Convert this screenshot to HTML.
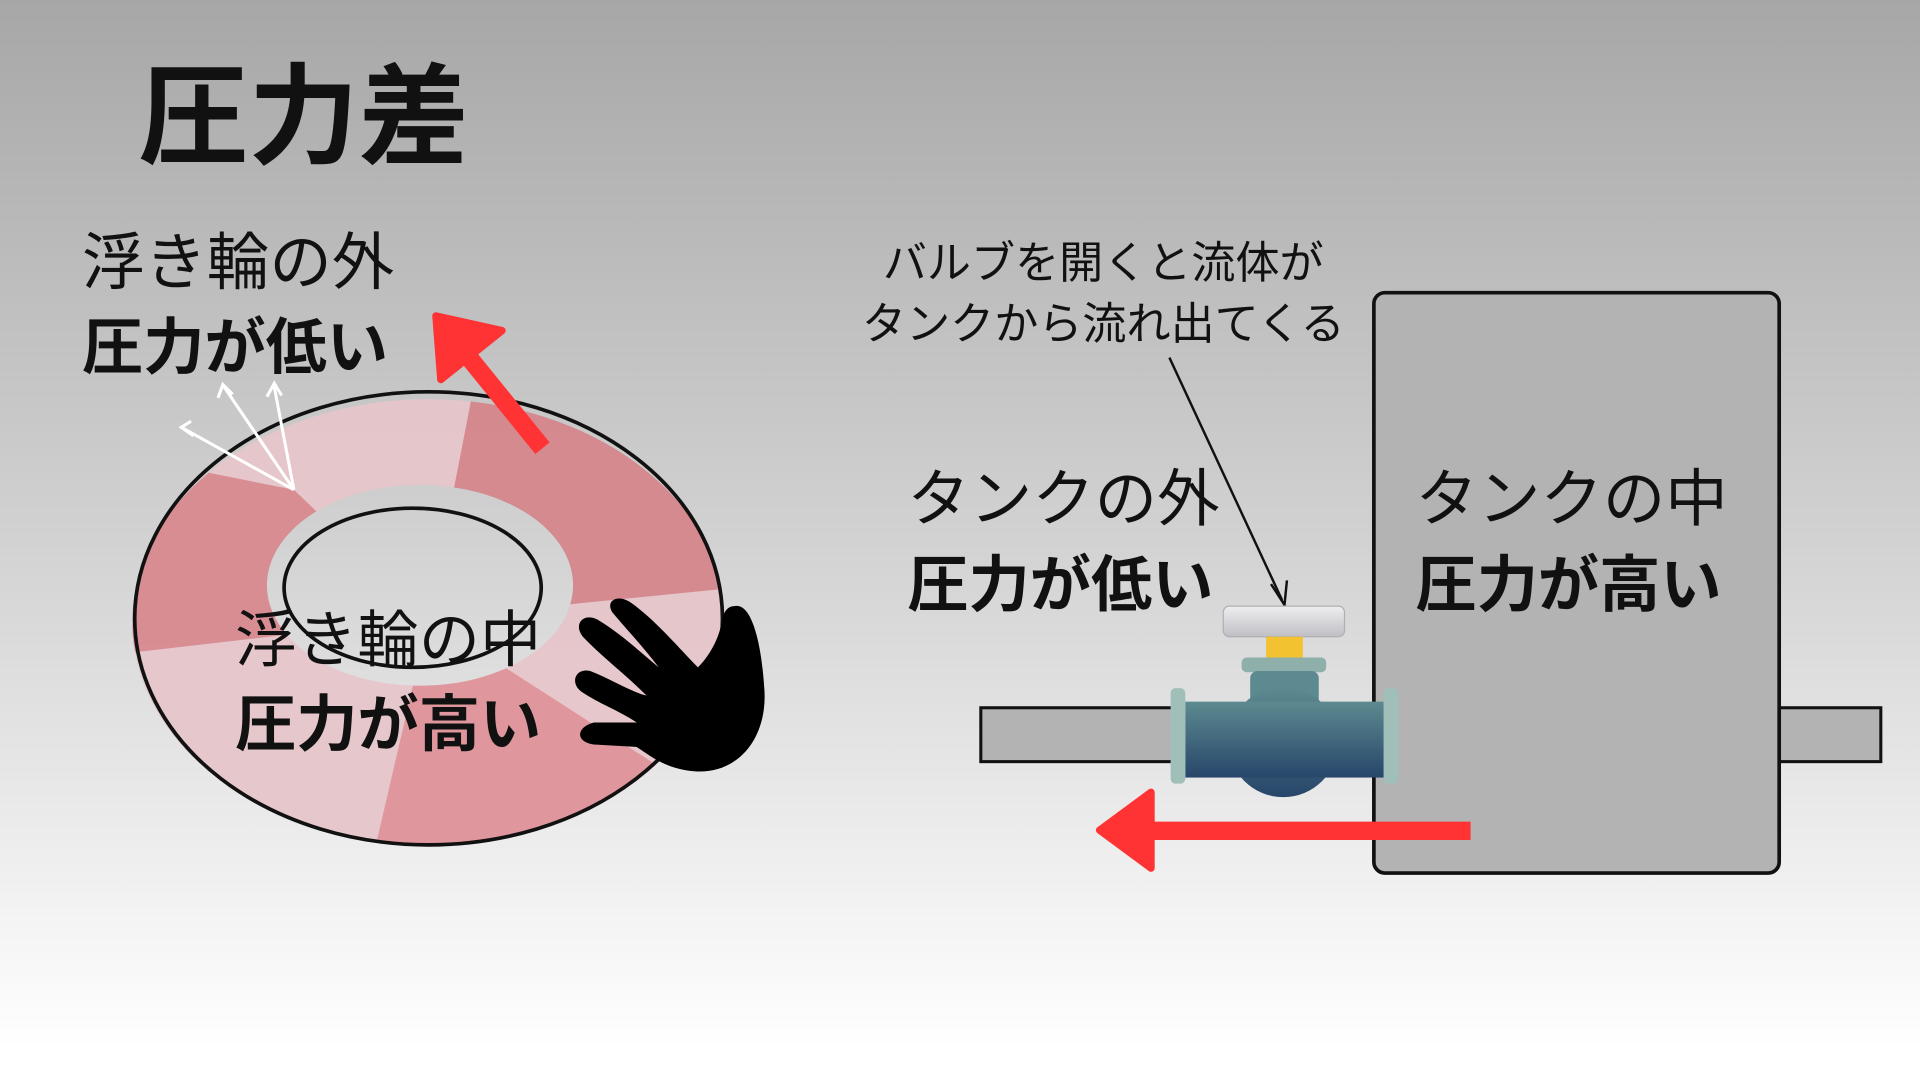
<!DOCTYPE html>
<html><head><meta charset="utf-8"><style>
html,body{margin:0;padding:0;width:1920px;height:1080px;overflow:hidden}
svg{display:block}
text{font-family:"Liberation Sans","Noto Sans CJK JP",sans-serif}
</style></head><body>
<svg width="1920" height="1080" viewBox="0 0 1568 882" xmlns="http://www.w3.org/2000/svg">
<defs>
<linearGradient id="bg" x1="0" y1="0" x2="0" y2="1">
<stop offset="0" stop-color="#a7a7a7"/><stop offset="0.5" stop-color="#d2d2d2"/><stop offset="0.97" stop-color="#ffffff"/>
</linearGradient>
<linearGradient id="vb" x1="0" y1="0" x2="0" y2="1">
<stop offset="0" stop-color="#5d8a90"/><stop offset="1" stop-color="#27466a"/>
</linearGradient>
<linearGradient id="hd" x1="0" y1="0" x2="0" y2="1">
<stop offset="0" stop-color="#eeeef0"/><stop offset="1" stop-color="#bfbfc4"/>
</linearGradient>
<clipPath id="ring"><path fill-rule="evenodd" clip-rule="evenodd" d="M108,508 a242,182 0 1,0 484,0 a242,182 0 1,0 -484,0 Z M218,478 a125,82 0 1,0 250,0 a125,82 0 1,0 -250,0 Z"/></clipPath>
</defs>
<rect width="1568" height="882" fill="url(#bg)"/>
<text x="113" y="127" font-size="90" font-weight="bold" fill="#111">圧力差</text>
<text x="67" y="232" font-size="51" fill="#111">浮き輪の外</text>
<text x="67" y="301" font-size="50" font-weight="bold" fill="#111">圧力が低い</text>
<!-- ring -->
<g clip-path="url(#ring)" opacity="0.95">
<rect x="100" y="300" width="500" height="400" fill="#e6c6ca"/>
<path d="M350,505 L390,300 L620,300 L620,478 Z" fill="#d4868c"/>
<path d="M350,505 L560,640 L600,720 L300,720 Z" fill="#df9399"/>
<path d="M350,505 L90,535 L90,370 L240,400 Z" fill="#d88a90"/>
</g>
<ellipse cx="350" cy="505" rx="240" ry="185" fill="none" stroke="#111" stroke-width="3"/>
<ellipse cx="337" cy="480" rx="105" ry="65" fill="none" stroke="#111" stroke-width="3"/>
<!-- white arrows -->
<g stroke="#fff" stroke-width="2.5" fill="none">
<line x1="240" y1="400" x2="150" y2="350"/><polyline points="156,344 148,349 158,356"/>
<line x1="240" y1="400" x2="183" y2="316"/><polyline points="178,325 182,314 190,322"/>
<line x1="240" y1="400" x2="224" y2="316"/><polyline points="218,324 224,313 230,323"/>
</g>
<!-- red arrow ring -->
<line x1="443" y1="366" x2="383" y2="292" stroke="#f33" stroke-width="15"/>
<polygon points="356,258 410,270 360,310" fill="#f33" stroke="#f33" stroke-width="6" stroke-linejoin="round"/>
<text x="192" y="540" font-size="50" fill="#111">浮き輪の中</text>
<text x="192" y="609" font-size="50" font-weight="bold" fill="#111">圧力が高い</text>
<!-- hand -->
<path fill="#000" d="M600,495 C615,492 622,530 624,560 C628,600 605,632 568,630 C545,628 535,620 520,610 L485,608 C470,606 470,594 485,590 L520,590 C505,580 490,575 475,565 C465,558 470,545 482,548 C500,555 515,565 528,568 C510,550 490,535 476,520 C468,510 476,500 488,506 C505,516 520,530 538,545 C525,528 510,512 500,500 C494,490 505,485 515,492 C535,506 555,530 570,545 C580,535 588,520 590,505 C592,497 596,495 600,495 Z"/>
<!-- right side -->
<text x="721" y="227" font-size="36" fill="#111">バルブを開くと流体が</text>
<text x="704" y="277" font-size="36" fill="#111">タンクから流れ出てくる</text>
<text x="741" y="425" font-size="51" fill="#111">タンクの外</text>
<text x="741" y="495" font-size="50" font-weight="bold" fill="#111">圧力が低い</text>
<rect x="801" y="578" width="160" height="44" fill="#b3b3b3" stroke="#111" stroke-width="2.5"/>
<rect x="1450" y="578" width="86" height="44" fill="#b3b3b3" stroke="#111" stroke-width="2.5"/>
<rect x="1122" y="239" width="331" height="474" rx="9" fill="#b3b3b3" stroke="#111" stroke-width="3"/>
<text x="1156" y="425" font-size="51" fill="#111">タンクの中</text>
<text x="1156" y="495" font-size="50" font-weight="bold" fill="#111">圧力が高い</text>
<!-- pointer line -->
<line x1="955" y1="292" x2="1047" y2="490" stroke="#111" stroke-width="2"/>
<polyline points="1038,477 1049,494 1051,474" fill="none" stroke="#111" stroke-width="2"/>
<!-- valve -->
<rect x="999" y="495" width="99" height="25" rx="5" fill="url(#hd)" stroke="#b0b0b4" stroke-width="1"/>
<rect x="1034" y="520" width="30" height="17" fill="#f2c230"/>
<rect x="1014" y="537" width="69" height="12" rx="4" fill="#8fb0aa"/>
<rect x="1021" y="548" width="56" height="30" rx="6" fill="#5d8a90"/>
<circle cx="1048" cy="606" r="45" fill="url(#vb)"/>
<rect x="968" y="573" width="162" height="62" fill="url(#vb)"/>
<rect x="956" y="562" width="12" height="78" rx="4" fill="#9fbfb8"/>
<rect x="1130" y="562" width="12" height="78" rx="4" fill="#9fbfb8"/>
<!-- red flow arrow -->
<rect x="935" y="671" width="266" height="15" fill="#f33"/>
<polygon points="898,678 940,647 940,709" fill="#f33" stroke="#f33" stroke-width="6" stroke-linejoin="round"/>
</svg>
</body></html>
